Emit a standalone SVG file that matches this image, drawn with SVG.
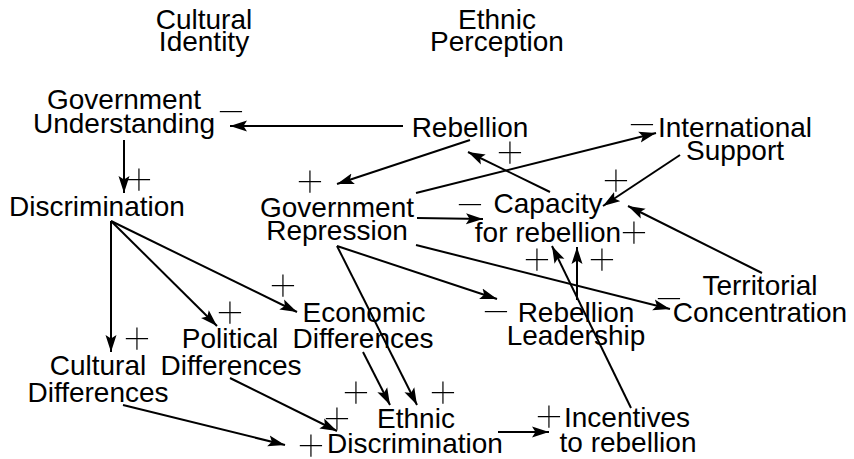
<svg xmlns="http://www.w3.org/2000/svg" width="854" height="459" viewBox="0 0 854 459">
<style>
.n{font-family:"Liberation Sans",Arial,sans-serif;font-size:28px;fill:#000;text-anchor:middle}
.s{font-family:Inter,"Liberation Serif",serif;font-weight:100;font-size:54px;fill:#000;text-anchor:middle}
.c line{stroke:#000;stroke-width:2;marker-end:url(#ah)}
</style>
<defs>
<marker id="ah" markerWidth="18" markerHeight="12" refX="17" refY="6" orient="auto" markerUnits="userSpaceOnUse">
<path d="M0,0.5 L17,6 L0,11.5 L3.5,6 z" fill="#000"/>
</marker>
</defs>
<rect width="854" height="459" fill="#fff"/>
<g id="cultural-identity"><text class="n" x="204" y="29">Cultural</text><text class="n" x="204" y="51">Identity</text></g>
<g id="ethnic-perception"><text class="n" x="497" y="29">Ethnic</text><text class="n" x="497" y="51">Perception</text></g>
<g id="government-understanding"><text class="n" x="124" y="109">Government</text><text class="n" x="124" y="133">Understanding</text></g>
<g id="rebellion"><text class="n" x="470" y="137">Rebellion</text></g>
<g id="international-support"><text class="n" x="735" y="137">International</text><text class="n" x="735" y="160">Support</text></g>
<g id="discrimination"><text class="n" x="97" y="216">Discrimination</text></g>
<g id="government-repression"><text class="n" x="337" y="217">Government</text><text class="n" x="337" y="240">Repression</text></g>
<g id="capacity"><text class="n" x="548" y="213">Capacity</text><text class="n" x="548" y="242">for rebellion</text></g>
<g id="territorial-concentration"><text class="n" x="760" y="295">Territorial</text><text class="n" x="760" y="322">Concentration</text></g>
<g id="rebellion-leadership"><text class="n" x="576" y="322">Rebellion</text><text class="n" x="576" y="345">Leadership</text></g>
<g id="economic-differences"><text class="n" x="364" y="322">Economic</text><text class="n" x="363" y="348">Differences</text></g>
<g id="political-differences"><text class="n" x="230" y="348">Political</text><text class="n" x="231" y="375">Differences</text></g>
<g id="cultural-differences"><text class="n" x="98" y="375">Cultural</text><text class="n" x="98" y="402">Differences</text></g>
<g id="ethnic-discrimination"><text class="n" x="416" y="428">Ethnic</text><text class="n" x="415" y="453">Discrimination</text></g>
<g id="incentives"><text class="n" x="627" y="427">Incentives</text><text class="n" x="628" y="452">to rebellion</text></g>
<g id="connectors" class="c">
<line x1="403" y1="126" x2="230" y2="126"/>
<line x1="124" y1="140" x2="124" y2="193"/>
<line x1="111" y1="221" x2="111" y2="352"/>
<line x1="111" y1="221" x2="217" y2="326"/>
<line x1="111" y1="221" x2="297" y2="312"/>
<line x1="470" y1="140" x2="337" y2="184"/>
<line x1="416" y1="193" x2="656" y2="133"/>
<line x1="550" y1="192" x2="468" y2="152"/>
<line x1="680" y1="155" x2="603" y2="206"/>
<line x1="417" y1="218" x2="483" y2="219"/>
<line x1="762" y1="273" x2="628" y2="206"/>
<line x1="337" y1="246" x2="497" y2="299"/>
<line x1="416" y1="245" x2="670" y2="309"/>
<line x1="337" y1="246" x2="417" y2="405"/>
<line x1="363" y1="352" x2="390" y2="405"/>
<line x1="230" y1="378" x2="337" y2="431"/>
<line x1="123" y1="405" x2="285" y2="445"/>
<line x1="498" y1="432" x2="549" y2="432"/>
<line x1="577" y1="300" x2="577" y2="247"/>
<line x1="631" y1="408" x2="552" y2="246"/>
</g>
<g id="polarity">
<text class="s" x="231" y="127">−</text>
<text class="s" x="139" y="195">+</text>
<text class="s" x="137" y="354">+</text>
<text class="s" x="230" y="328">+</text>
<text class="s" x="283" y="301">+</text>
<text class="s" x="310" y="197">+</text>
<text class="s" x="642" y="140">−</text>
<text class="s" x="510" y="168">+</text>
<text class="s" x="616" y="196">+</text>
<text class="s" x="470" y="220">−</text>
<text class="s" x="634" y="248">+</text>
<text class="s" x="537" y="275">+</text>
<text class="s" x="602" y="275">+</text>
<text class="s" x="496" y="327">−</text>
<text class="s" x="669" y="314">−</text>
<text class="s" x="356" y="408">+</text>
<text class="s" x="443" y="408">+</text>
<text class="s" x="337" y="434">+</text>
<text class="s" x="311" y="461">+</text>
<text class="s" x="549" y="432">+</text>
</g>
</svg>
